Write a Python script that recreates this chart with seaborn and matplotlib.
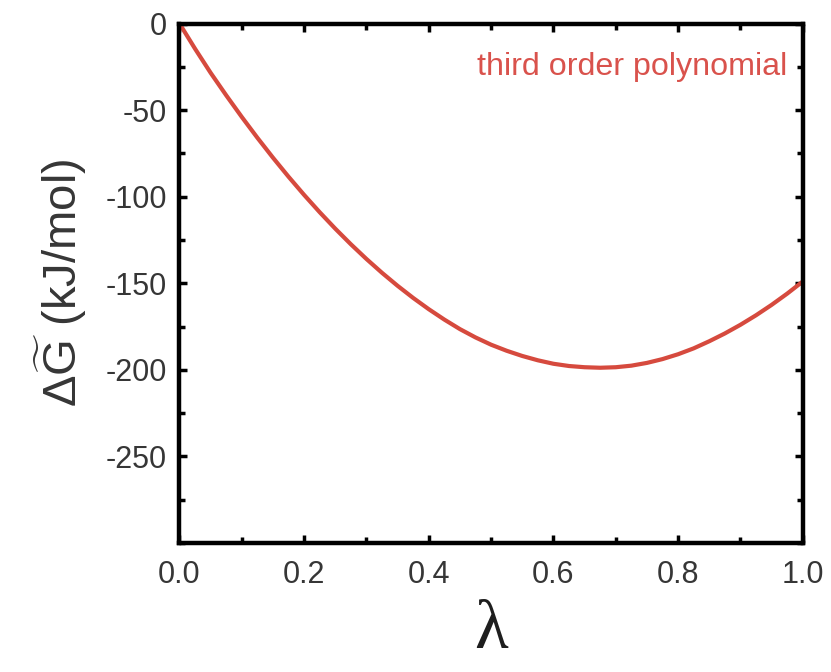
import matplotlib
matplotlib.use("Agg")
import matplotlib.pyplot as plt
from matplotlib.ticker import MultipleLocator, FixedLocator
import seaborn as sns
import pandas as pd

# Free-energy profile along the coupling parameter (third order polynomial fit)
lam = [0.000, 0.025, 0.050, 0.075, 0.100, 0.125, 0.150, 0.175, 0.200, 0.225,
       0.250, 0.275, 0.300, 0.325, 0.350, 0.375, 0.400, 0.425, 0.450, 0.475,
       0.500, 0.525, 0.550, 0.575, 0.600, 0.625, 0.650, 0.675, 0.700, 0.725,
       0.750, 0.775, 0.800, 0.825, 0.850, 0.875, 0.900, 0.925, 0.950, 0.975,
       1.000]
dG = [0.0, -14.6, -28.5, -41.5, -54.0, -66.0, -77.5, -88.5, -99.0, -109.0,
      -118.5, -127.5, -136.0, -144.0, -151.5, -158.5, -165.0, -171.0, -176.5, -181.3,
      -185.5, -189.0, -192.0, -194.5, -196.5, -197.8, -198.5, -198.8, -198.5, -197.6,
      -196.0, -193.8, -191.0, -187.6, -183.5, -179.0, -174.0, -168.5, -162.5, -156.0,
      -149.0]

x_ticks = [0.0, 0.2, 0.4, 0.6, 0.8, 1.0]
x_ticklabels = ["0.0", "0.2", "0.4", "0.6", "0.8", "1.0"]
y_ticks = [0, -50, -100, -150, -200, -250]
y_ticklabels = ["0", "-50", "-100", "-150", "-200", "-250"]
curve_label = "third order polynomial"

df = pd.DataFrame({"lambda": lam, "dG": dG})

sns.set_theme(style="ticks")
plt.rcParams["font.family"] = ["Liberation Sans", "DejaVu Sans"]
plt.rcParams["mathtext.fontset"] = "custom"
plt.rcParams["mathtext.rm"] = "Liberation Sans"
plt.rcParams["mathtext.it"] = "Liberation Sans"

red = "#d64a3e"
ink = "#363636"

fig = plt.figure(figsize=(8.31, 6.72), dpi=100)
ax = fig.add_axes([0.216, 0.192, 0.750, 0.773])

sns.lineplot(data=df, x="lambda", y="dG", color=red, linewidth=3.0, ax=ax)

ax.set_xlim(0, 1)
ax.set_ylim(-300, 0)
ax.xaxis.set_major_locator(FixedLocator(x_ticks))
ax.set_xticklabels(x_ticklabels)
ax.xaxis.set_minor_locator(MultipleLocator(0.1))
ax.yaxis.set_major_locator(FixedLocator(y_ticks))
ax.set_yticklabels(y_ticklabels)
ax.yaxis.set_minor_locator(MultipleLocator(25))

for side in ["left", "right", "top", "bottom"]:
    ax.spines[side].set_visible(True)
    ax.spines[side].set_linewidth(3.2)
    ax.spines[side].set_color("black")

ax.tick_params(which="both", direction="in", top=True, right=True,
               color="black", width=2.5)
ax.tick_params(which="major", length=6, labelsize=22, labelcolor=ink)
ax.tick_params(which="minor", length=4)
ax.tick_params(axis="x", which="major", pad=12)
ax.tick_params(axis="y", which="major", pad=9)

ax.set_xlabel("λ", family="Liberation Serif", fontsize=50, color="#1e1e1e", labelpad=7)
ax.set_ylabel(r"$\Delta\widetilde{G}$ (kJ/mol)", fontsize=34, color=ink, labelpad=12)

ax.text(0.975, 0.917, curve_label, transform=ax.transAxes, ha="right", va="center",
        fontsize=23.2, color="#d9524c")

fig.savefig("out.png", dpi=100, facecolor="white")
